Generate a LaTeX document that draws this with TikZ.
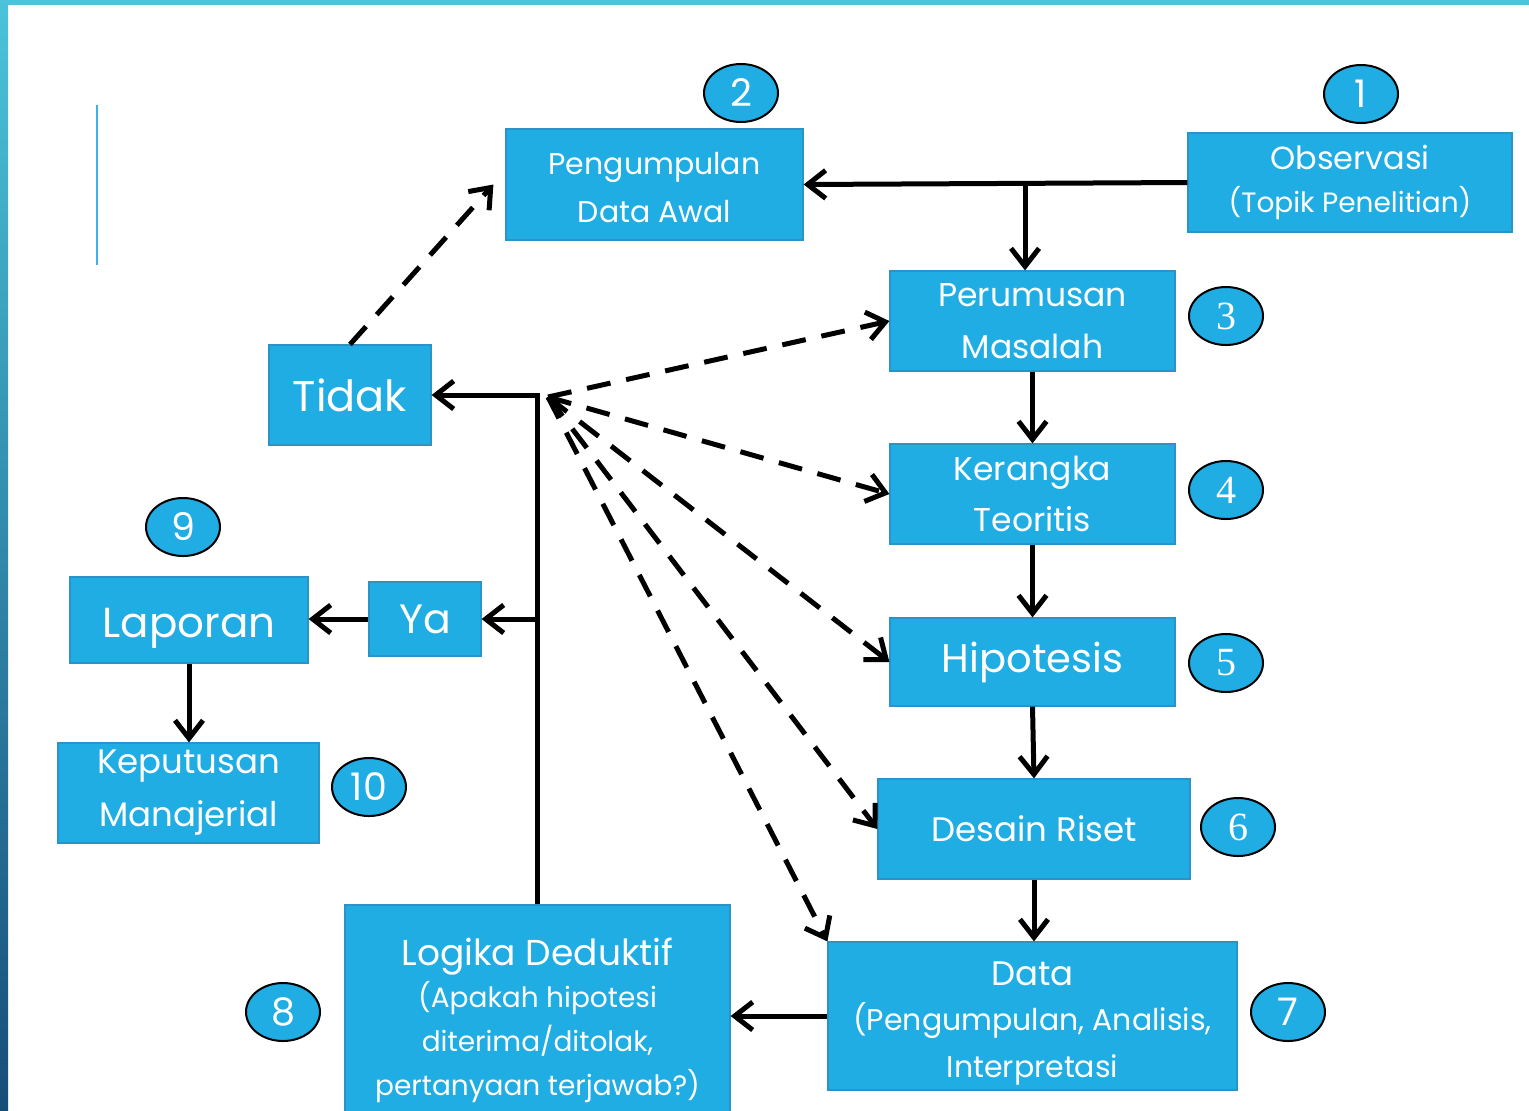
\documentclass[tikz,border=0pt]{standalone}
\usepackage{fontspec}
\setmainfont{Poppins}
\newfontfamily\numserif{Liberation Serif}
\usetikzlibrary{arrows.meta,shapes.geometric,calc}
\definecolor{boxblue}{HTML}{1FADE4}
\definecolor{boxedge}{HTML}{2A93C8}
\definecolor{bandtop}{HTML}{4BC3DA}
\definecolor{bandbot}{HTML}{174E77}
\definecolor{decor}{HTML}{3DB2EA}
\newcommand{\fz}[1]{\fontsize{#1}{1.5\dimexpr#1pt\relax}\selectfont}
\tikzset{
  box/.style={draw=boxedge, fill=boxblue, line width=0.6pt, text=white, align=center, inner sep=0pt},
  num/.style={ellipse, draw=black, line width=1pt, fill=boxblue, text=white, minimum width=37pt, minimum height=29pt, inner sep=0pt, font=\fz{19}},
  numS/.style={num, font=\numserif\fz{20}},
  arr/.style={line width=2.5pt, -{Straight Barb[length=9pt,width=14pt,line width=2.5pt]}},
  dsh/.style={arr, dash pattern=on 12pt off 8pt},
}
\begin{document}
\begin{tikzpicture}[x=0.5pt,y=-0.5pt]
\useasboundingbox (0,0) rectangle (1529,1110);
\fill[white] (0,0) rectangle (1529,1110);
\begin{scope}
\clip (0,0) rectangle (1529,1110);
% boxes
\node[box, minimum width=162pt, minimum height=49.5pt, font=\fz{16}] (obs) at (1350,182.5) {Observasi\\[-2.5pt]{\fz{14}(Topik Penelitian)}};
\node[box, minimum width=148.5pt, minimum height=55.5pt, font=\fz{15}] (peng) at (654.5,184.5) {\rule{0pt}{14pt}Pengumpulan\\[1.5pt]Data Awal};
\node[box, minimum width=142.5pt, minimum height=50pt, font=\fz{16.5}] (perum) at (1032.5,321) {Perumusan\\[1pt]Masalah};
\node[box, minimum width=142.5pt, minimum height=50pt, font=\fz{16.5}] (ker) at (1032.5,494) {Kerangka\\[1pt]Teoritis};
\node[box, minimum width=142.5pt, minimum height=44pt, font=\fz{20}] (hip) at (1032.5,662) {Hipotesis};
\node[box, minimum width=156pt, minimum height=50pt, font=\fz{17}] (des) at (1034,829) {Desain Riset};
\node[box, minimum width=204.5pt, minimum height=74pt, font=\fz{15}] (data) at (1032.5,1016) {\rule{0pt}{19.5pt}{\fz{17}Data}\\[0pt](Pengumpulan, Analisis,\\[1pt]Interpretasi};
\node[box, minimum width=192.5pt, minimum height=115pt, font=\fz{14}] (log) at (537.5,1020) {{\fz{18}Logika Deduktif}\\[0pt](Apakah hipotesi\\[1pt]diterima/ditolak,\\[1pt]pertanyaan terjawab?)};
\node[box, minimum width=81pt, minimum height=50pt, font=\fz{21.5}] (tidak) at (350,395) {Tidak};
\node[box, minimum width=56pt, minimum height=37pt, font=\fz{20.5}] (ya) at (425,619) {Ya};
\node[box, minimum width=119pt, minimum height=43pt, font=\fz{21}, text height=22pt, text depth=4.5pt] (lap) at (189,620) {Laporan};
\node[box, minimum width=130.5pt, minimum height=50pt, font=\fz{17}] (kep) at (188.5,793) {Keputusan\\[1pt]Manajerial};
% number ellipses
\node[num] (n1) at (1361,94) {1};
\node[num] (n2) at (741,93) {2};
\node[numS] (n3) at (1226,316) {3};
\node[numS] (n4) at (1226,490) {4};
\node[numS] (n5) at (1226,663) {5};
\node[numS] (n6) at (1238,827) {6};
\node[num] (n7) at (1288,1012) {7};
\node[num] (n8) at (283,1012) {8};
\node[num] (n9) at (183,527) {9};
\node[num] (n10) at (369,787) {10};
% solid connectors
\draw[arr] (obs.west) -- (peng.east);
\coordinate (jA) at (1025,183);
\draw[arr] (jA) -- (jA |- perum.north);
\draw[arr] (perum.south) -- (ker.north);
\draw[arr] (ker.south) -- (hip.north);
\draw[arr] (hip.south) -- (des.north);
\draw[arr] (des.south) -- (des.south |- data.north);
\draw[arr] (data.west) -- (data.west -| log.east);
\draw[arr] (log.north) |- (tidak.east);
\draw[arr] (log.north |- ya.east) -- (ya.east);
\draw[arr] (ya.west) -- (ya.west -| lap.east);
\draw[arr] (lap.south) -- (lap.south |- kep.north);
% dashed connectors
\coordinate (F) at (548,397);
\draw[dsh] (tidak.north) -- ([xshift=-6pt]peng.west);
\draw[dsh] (F) -- (perum.west);
\draw[dsh] (F) -- (ker.west);
\draw[dsh] (F) -- (hip.west);
\draw[dsh] (F) -- (des.west);
\draw[dsh] (F) -- (data.north west);
\end{scope}
% frame bands
\fill[bandtop] (0,0) rectangle (1529,5);
\shade[top color=bandtop, bottom color=bandbot] (0,0) rectangle (8,1110);
\draw[decor, line width=1pt] (97,105) -- (97,265);
\end{tikzpicture}
\end{document}
